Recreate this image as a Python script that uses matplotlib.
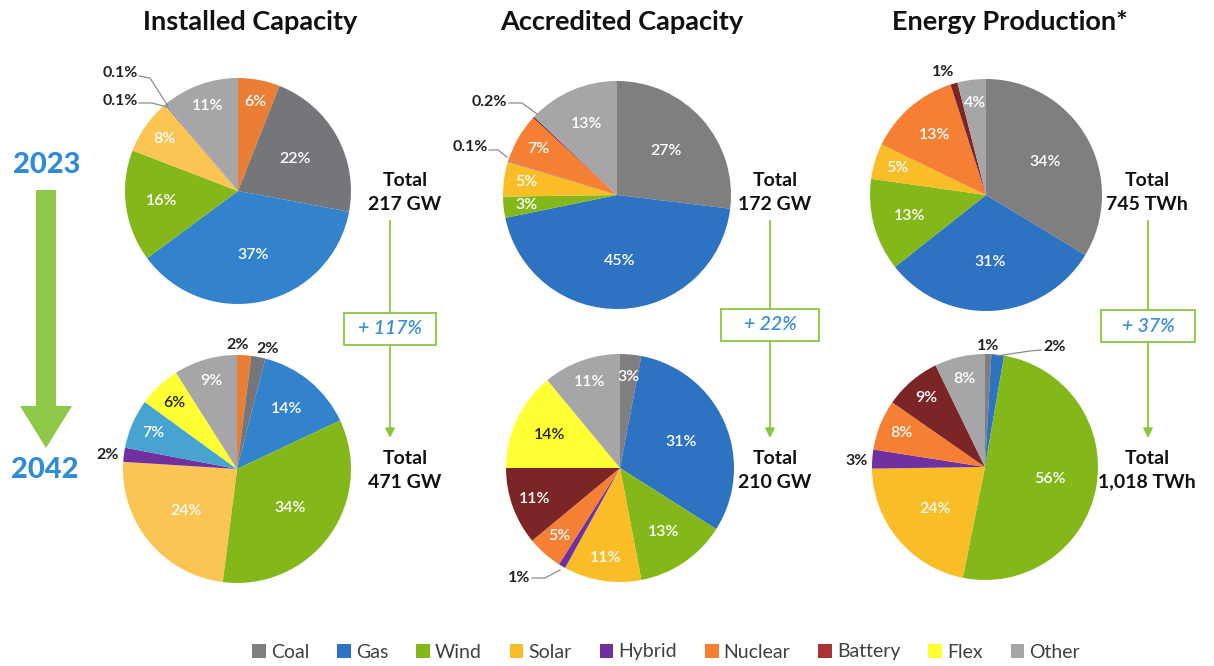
import matplotlib
matplotlib.use("Agg")
import matplotlib.pyplot as plt
import numpy as np
from matplotlib.patches import Patch, FancyArrow, FancyBboxPatch

plt.rcParams["font.family"] = ["Lato", "DejaVu Sans"]

W, H = 1214, 666

# ---- data ----
categories = ["Coal", "Gas", "Wind", "Solar", "Hybrid", "Nuclear", "Battery", "Flex", "Other"]
colors = {
    "Coal": "#7f7f7f", "Gas": "#2e72c2", "Wind": "#84b81a", "Solar": "#f8bd27",
    "Hybrid": "#7030a0", "Nuclear": "#f57f32", "Battery": "#7b2527",
    "Flex": "#ffff33", "Other": "#a6a6a8",
}
legend_colors = dict(colors, Battery="#a83436")
# installed-capacity column uses slightly different shades
installed_colors = dict(colors, Nuclear="#e97e34", Coal="#757679", Gas="#3283cc",
                        Solar="#fac553", Battery="#47a3cf")

inst_2023_cats = ["Nuclear", "Coal", "Gas", "Wind", "Solar", "Hybrid", "Battery", "Other"]
inst_2023_vals = [6, 22, 37, 16, 8, 0.1, 0.1, 11]
inst_2042_cats = ["Nuclear", "Coal", "Gas", "Wind", "Solar", "Hybrid", "Battery", "Flex", "Other"]
inst_2042_vals = [2, 2, 14, 34, 24, 2, 7, 6, 9]

accr_2023_cats = ["Coal", "Gas", "Wind", "Solar", "Hybrid", "Nuclear", "Battery", "Other"]
accr_2023_vals = [27, 45, 3, 5, 0.1, 7, 0.2, 13]
accr_2042_cats = ["Coal", "Gas", "Wind", "Solar", "Hybrid", "Nuclear", "Battery", "Flex", "Other"]
accr_2042_vals = [3, 31, 13, 11, 1, 5, 11, 14, 11]

ener_2023_cats = ["Coal", "Gas", "Wind", "Solar", "Nuclear", "Battery", "Other"]
ener_2023_vals = [34, 31, 13, 5, 13, 1, 4]
ener_2042_cats = ["Coal", "Gas", "Wind", "Solar", "Hybrid", "Nuclear", "Battery", "Other"]
ener_2042_vals = [1, 2, 56, 24, 3, 8, 9, 8]

titles = ["Installed Capacity", "Accredited Capacity", "Energy Production*"]
totals_2023 = ["217 GW", "172 GW", "745 TWh"]
totals_2042 = ["471 GW", "210 GW", "1,018 TWh"]
growth = ["+ 117%", "+ 22%", "+ 37%"]


def fmt(v):
    return f"{v:g}%"


fig = plt.figure(figsize=(W / 100, H / 100), dpi=100)
ax = fig.add_axes([0, 0, 1, 1])


def Y(y):
    return H - y


# external labels: slice index -> (text x, text y, leader line points or None)
def draw_pie(cats, vals, cpal, cx, cy, r, external):
    wedges, _ = ax.pie(vals, colors=[cpal[c] for c in cats], startangle=90,
                       counterclock=False, center=(cx, Y(cy)), radius=r,
                       wedgeprops=dict(linewidth=0))
    for i, (w, c, v) in enumerate(zip(wedges, cats, vals)):
        if i in external:
            tx, ty, line = external[i]
            ax.text(tx, Y(ty), fmt(v), ha="center", va="center", fontsize=11.5,
                    fontweight="bold", color="#222222")
            if line:
                xs = [p[0] for p in line]
                ys = [Y(p[1]) for p in line]
                ax.plot(xs, ys, color="#8c8c8c", lw=0.9)
            continue
        mid = np.deg2rad((w.theta1 + w.theta2) / 2)
        d = 0.8 if v < 12 else (0.68 if v < 20 else 0.58)
        tc = "#222222" if c == "Flex" else "white"
        ax.text(cx + d * r * np.cos(mid), Y(cy) + d * r * np.sin(mid), fmt(v),
                ha="center", va="center", fontsize=11.5, color=tc, fontweight="semibold")


draw_pie(inst_2023_cats, inst_2023_vals, installed_colors, 238, 191, 113,
         {5: (120, 101, [(139, 103), (152, 103), (167, 107)]),
          6: (120, 73, [(139, 76), (150, 78), (168, 106)])})
draw_pie(inst_2042_cats, inst_2042_vals, installed_colors, 237, 469, 114,
         {0: (238, 345, None), 1: (268, 349, None), 5: (108, 455, None)})
draw_pie(accr_2023_cats, accr_2023_vals, colors, 617, 195, 114,
         {4: (470, 147, [(489, 150), (498, 150), (507, 157)]),
          6: (489, 102, [(509, 103), (522, 103), (537, 114)])})
draw_pie(accr_2042_cats, accr_2042_vals, colors, 620, 468, 114,
         {4: (519, 578, [(532, 578), (545, 578), (560, 570)])})
draw_pie(ener_2023_cats, ener_2023_vals, colors, 986, 195, 116,
         {5: (943, 72, None)})
draw_pie(ener_2042_cats, ener_2042_vals, colors, 985, 467, 113,
         {0: (988, 346, None), 1: (1055, 347, [(1041, 350), (1030, 351), (996, 356)]),
          4: (857, 461, None)})

# titles
for t, x in zip(titles, [250, 622, 1010]):
    ax.text(x, Y(22), t, ha="center", va="center", fontsize=19.5, fontweight="bold",
            color="#111111")

# totals, connectors and growth boxes
green = "#8cc63f"
blue_txt = "#3a8fd8"
total_x = [405, 775, 1147]
line_x = [390, 770, 1148]
box_y = [329, 325, 326]
box_w = [92, 98, 94]
for i in range(3):
    ax.text(total_x[i], Y(181), "Total", ha="center", va="center", fontsize=14,
            fontweight="bold", color="#111111")
    ax.text(total_x[i], Y(205), totals_2023[i], ha="center", va="center", fontsize=14,
            fontweight="bold", color="#111111")
    ax.text(total_x[i], Y(458), "Total", ha="center", va="center", fontsize=14,
            fontweight="bold", color="#111111")
    ax.text(total_x[i], Y(482), totals_2042[i], ha="center", va="center", fontsize=14,
            fontweight="bold", color="#111111")
    lx, by = line_x[i], box_y[i]
    ax.plot([lx, lx], [Y(221), Y(by - 16)], color=green, lw=1.3)
    ax.annotate("", xy=(lx, Y(438)), xytext=(lx, Y(by + 16)),
                arrowprops=dict(arrowstyle="-|>", color=green, lw=1.3,
                                mutation_scale=14, shrinkA=0, shrinkB=0))
    ax.add_patch(FancyBboxPatch((lx - box_w[i] / 2, Y(by + 16)), box_w[i], 32,
                                boxstyle="square,pad=0", facecolor="white",
                                edgecolor=green, lw=1.3))
    ax.text(lx, Y(by), growth[i], ha="center", va="center", fontsize=14,
            fontstyle="italic", fontweight="semibold", color=blue_txt)

# left year arrow
ax.text(47, Y(165), "2023", ha="center", va="center", fontsize=21,
        fontweight="black", color="#2f8cd6")
ax.text(45, Y(470), "2042", ha="center", va="center", fontsize=21,
        fontweight="black", color="#2f8cd6")
ax.add_patch(FancyArrow(46, Y(190), 0, -(448 - 190), width=20, head_width=52,
                        head_length=42, length_includes_head=True,
                        color="#8dc849", lw=0))

# legend
handles = [Patch(facecolor=legend_colors[c], edgecolor="none") for c in categories]
leg = fig.legend(handles, categories, loc="center", bbox_to_anchor=(666 / W, 1 - 652 / H),
                 ncol=9, frameon=False, fontsize=14, handlelength=0.7,
                 handleheight=0.7, handletextpad=0.25, columnspacing=1.45)
for t in leg.get_texts():
    t.set_color("#404040")

ax.set_xlim(0, W)
ax.set_ylim(0, H)
ax.set_aspect("equal")
ax.axis("off")

fig.savefig("out.png", dpi=100)
